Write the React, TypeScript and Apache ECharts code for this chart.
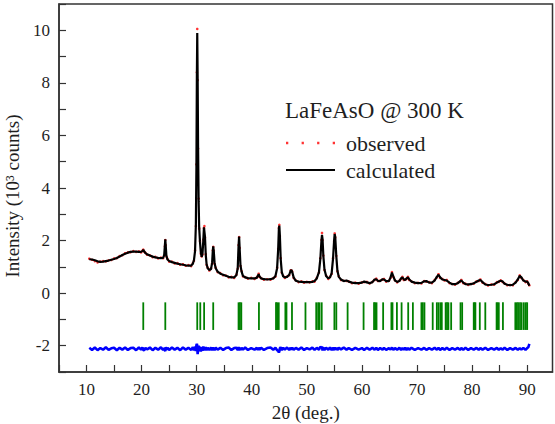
import React, { useEffect, useRef } from "react";
import * as echarts from "echarts";

// 2θ grid (deg.)
const twoTheta = [
  10.5, 11.0, 11.5, 12.0, 12.5, 13.0, 13.5, 14.0, 14.5, 15.0,
  15.5, 16.0, 16.5, 17.0, 17.5, 18.0, 18.5, 19.0, 19.5, 19.9,
  20.15, 20.3, 20.45, 20.7, 21.0, 21.5, 22.0, 22.5, 23.0, 23.5,
  23.9, 24.1, 24.22, 24.3, 24.38, 24.5, 24.7, 25.0, 25.5, 26.0,
  26.5, 27.0, 27.5, 28.0, 28.5, 29.0, 29.3, 29.5, 29.7, 29.85,
  29.95, 30.03, 30.1, 30.17, 30.25, 30.35, 30.45, 30.6, 30.75, 30.9,
  31.05, 31.2, 31.32, 31.4, 31.5, 31.65, 31.8, 32.0, 32.3, 32.6,
  32.8, 32.92, 33.0, 33.1, 33.25, 33.45, 33.8, 34.3, 34.8, 35.3,
  35.8, 36.3, 36.8, 37.2, 37.45, 37.6, 37.7, 37.8, 37.95, 38.15,
  38.4, 38.8, 39.3, 39.9, 40.5, 40.9, 41.1, 41.25, 41.4, 41.7,
  42.2, 42.8, 43.4, 43.9, 44.3, 44.6, 44.8, 44.92, 45.0, 45.1,
  45.25, 45.45, 45.7, 46.0, 46.4, 46.8, 47.05, 47.2, 47.35, 47.6,
  48.0, 48.5, 49.0, 49.5, 50.0, 50.5, 51.0, 51.4, 51.8, 52.2,
  52.45, 52.65, 52.75, 52.85, 53.0, 53.2, 53.5, 53.9, 54.2, 54.5,
  54.75, 54.95, 55.05, 55.15, 55.35, 55.55, 55.8, 56.2, 56.7, 57.2,
  57.6, 58.2, 58.8, 59.4, 60.0, 60.4, 60.9, 61.4, 61.9, 62.3,
  62.6, 62.9, 63.3, 63.75, 64.0, 64.4, 64.9, 65.2, 65.45, 65.7,
  66.0, 66.4, 66.8, 67.1, 67.35, 67.6, 67.85, 68.1, 68.35, 68.6,
  69.0, 69.6, 70.2, 70.8, 71.3, 71.7, 72.2, 72.7, 73.2, 73.6,
  73.9, 74.2, 74.6, 75.0, 75.4, 75.9, 76.4, 76.9, 77.4, 77.8,
  78.05, 78.4, 78.8, 79.3, 79.8, 80.3, 80.8, 81.2, 81.5, 81.9,
  82.4, 82.9, 83.5, 84.0, 84.5, 84.85, 85.2, 85.5, 85.9, 86.4,
  86.9, 87.4, 87.9, 88.3, 88.65, 88.95, 89.3, 89.7, 90.0, 90.2,
  90.4,
];

// calculated intensity (10^3 counts)
const calculated = [
  1.29, 1.28, 1.25, 1.21, 1.19, 1.2, 1.22, 1.24, 1.27, 1.3,
  1.34, 1.39, 1.45, 1.5, 1.54, 1.57, 1.58, 1.58, 1.57, 1.57,
  1.6, 1.65, 1.6, 1.52, 1.48, 1.43, 1.39, 1.36, 1.34, 1.33,
  1.34, 1.45, 1.8, 2.05, 1.8, 1.42, 1.28, 1.22, 1.18, 1.15,
  1.12, 1.1, 1.08, 1.06, 1.05, 1.05, 1.12, 1.25, 1.6, 2.6,
  4.8, 8.2, 9.9, 8.3, 5.6, 3.5, 2.5, 1.95, 1.55, 1.38,
  1.5, 2.0, 2.5, 2.52, 2.15, 1.45, 1.1, 0.95, 0.88, 0.92,
  1.15, 1.6, 1.78, 1.6, 1.15, 0.95, 0.82, 0.74, 0.7, 0.66,
  0.62, 0.6, 0.6, 0.68, 0.95, 1.8, 2.15, 1.7, 1.05, 0.82,
  0.66, 0.6, 0.57, 0.56, 0.56, 0.58, 0.66, 0.72, 0.64, 0.56,
  0.53, 0.52, 0.53, 0.56, 0.65, 0.95, 1.7, 2.45, 2.57, 2.2,
  1.3, 0.8, 0.64, 0.6, 0.62, 0.7, 0.85, 0.88, 0.8, 0.6,
  0.47, 0.44, 0.43, 0.42, 0.42, 0.42, 0.43, 0.46, 0.56, 0.8,
  1.3, 2.0, 2.22, 2.05, 1.4, 0.9, 0.65, 0.56, 0.6, 0.75,
  1.3, 2.0, 2.25, 2.15, 1.4, 0.85, 0.62, 0.52, 0.46, 0.48,
  0.44, 0.4, 0.38, 0.38, 0.4, 0.44, 0.41, 0.38, 0.42, 0.52,
  0.53, 0.47, 0.46, 0.53, 0.52, 0.46, 0.46, 0.6, 0.78, 0.64,
  0.48, 0.43, 0.46, 0.56, 0.6, 0.52, 0.5, 0.56, 0.6, 0.52,
  0.44, 0.4, 0.38, 0.39, 0.45, 0.46, 0.4, 0.4, 0.48, 0.62,
  0.7, 0.6, 0.52, 0.5, 0.48, 0.4, 0.34, 0.34, 0.38, 0.45,
  0.48, 0.4, 0.34, 0.33, 0.34, 0.38, 0.43, 0.48, 0.5, 0.42,
  0.33, 0.31, 0.32, 0.34, 0.4, 0.44, 0.47, 0.45, 0.36, 0.32,
  0.3, 0.32, 0.4, 0.52, 0.66, 0.6, 0.48, 0.44, 0.44, 0.38,
  0.28,
];

// observed intensity (10^3 counts)
const observed = [
  1.31, 1.27, 1.22, 1.17, 1.2, 1.22, 1.21, 1.25, 1.26, 1.32,
  1.33, 1.41, 1.44, 1.52, 1.55, 1.56, 1.6, 1.57, 1.59, 1.55,
  1.62, 1.66, 1.58, 1.53, 1.46, 1.44, 1.37, 1.38, 1.32, 1.35,
  1.33, 1.44, 1.78, 2.02, 1.83, 1.4, 1.3, 1.2, 1.2, 1.13,
  1.14, 1.08, 1.1, 1.04, 1.07, 1.03, 1.14, 1.23, 1.63, 2.55,
  4.9, 8.4, 10.05, 8.1, 5.5, 3.6, 2.45, 1.98, 1.5, 1.4,
  1.47, 2.04, 2.47, 2.55, 2.12, 1.48, 1.08, 0.97, 0.86, 0.94,
  1.13, 1.63, 1.76, 1.62, 1.12, 0.97, 0.8, 0.76, 0.68, 0.67,
  0.6, 0.62, 0.58, 0.7, 0.93, 1.83, 2.13, 1.72, 1.03, 0.84,
  0.64, 0.61, 0.55, 0.58, 0.54, 0.6, 0.64, 0.74, 0.62, 0.57,
  0.51, 0.53, 0.51, 0.57, 0.63, 0.97, 1.68, 2.48, 2.6, 2.17,
  1.33, 0.78, 0.66, 0.58, 0.63, 0.68, 0.87, 0.86, 0.82, 0.58,
  0.49, 0.42, 0.45, 0.4, 0.43, 0.41, 0.45, 0.44, 0.58, 0.78,
  1.33, 2.03, 2.29, 2.02, 1.43, 0.88, 0.67, 0.54, 0.62, 0.73,
  1.33, 1.98, 2.27, 2.12, 1.42, 0.83, 0.64, 0.5, 0.47, 0.46,
  0.45, 0.38, 0.4, 0.36, 0.41, 0.42, 0.43, 0.37, 0.43, 0.5,
  0.55, 0.46, 0.48, 0.51, 0.54, 0.44, 0.47, 0.58, 0.8, 0.62,
  0.49, 0.41, 0.48, 0.54, 0.62, 0.5, 0.52, 0.54, 0.62, 0.5,
  0.45, 0.38, 0.39, 0.37, 0.46, 0.44, 0.42, 0.38, 0.5, 0.6,
  0.72, 0.58, 0.54, 0.48, 0.5, 0.38, 0.35, 0.32, 0.39, 0.43,
  0.5, 0.38, 0.36, 0.31, 0.35, 0.36, 0.45, 0.46, 0.52, 0.4,
  0.35, 0.29, 0.33, 0.32, 0.42, 0.43, 0.49, 0.43, 0.37, 0.3,
  0.31, 0.3, 0.42, 0.5, 0.68, 0.58, 0.5, 0.42, 0.45, 0.36,
  0.3,
];

// difference curve (offset, 10^3 counts)
const difference = [
  -2.08, -2.16, -2.07, -2.17, -2.09, -2.15, -2.06, -2.16, -2.1, -2.08,
  -2.17, -2.08, -2.15, -2.07, -2.16, -2.09, -2.08, -2.17, -2.07, -2.15,
  -2.06, -2.16, -2.18, -2.08, -2.14, -2.07, -2.17, -2.08, -2.15, -2.06,
  -2.16, -2.09, -2.18, -2.21, -2.05, -2.15, -2.08, -2.16, -2.07, -2.15,
  -2.08, -2.17, -2.07, -2.15, -2.08, -2.16, -2.06, -2.17, -2.04, -2.2,
  -1.98, -1.93, -2.0, -2.32, -2.18, -2.0, -2.2, -2.04, -2.22, -2.06,
  -2.19, -2.03, -2.18, -2.06, -2.18, -2.05, -2.17, -2.08, -2.16, -2.07,
  -2.17, -2.06, -2.16, -2.08, -2.17, -2.07, -2.15, -2.08, -2.16, -2.09,
  -2.07, -2.16, -2.09, -2.08, -2.16, -2.05, -2.18, -2.07, -2.16, -2.08,
  -2.15, -2.07, -2.16, -2.09, -2.15, -2.08, -2.16, -2.07, -2.15, -2.08,
  -2.16, -2.09, -2.07, -2.15, -2.08, -2.17, -2.2, -2.26, -2.22, -2.1,
  -2.06, -2.16, -2.08, -2.15, -2.07, -2.16, -2.08, -2.15, -2.07, -2.16,
  -2.08, -2.15, -2.07, -2.16, -2.09, -2.14, -2.07, -2.16, -2.08, -2.15,
  -2.04, -2.07, -2.03, -2.18, -2.07, -2.16, -2.08, -2.15, -2.07, -2.16,
  -2.08, -2.17, -2.06, -2.15, -2.08, -2.16, -2.08, -2.14, -2.07, -2.15,
  -2.09, -2.16, -2.08, -2.15, -2.09, -2.16, -2.08, -2.15, -2.08, -2.15,
  -2.08, -2.16, -2.09, -2.15, -2.08, -2.16, -2.09, -2.15, -2.07, -2.16,
  -2.09, -2.15, -2.08, -2.16, -2.09, -2.15, -2.08, -2.16, -2.09, -2.15,
  -2.08, -2.16, -2.09, -2.15, -2.08, -2.16, -2.09, -2.15, -2.08, -2.15,
  -2.08, -2.16, -2.09, -2.15, -2.08, -2.16, -2.09, -2.15, -2.08, -2.16,
  -2.09, -2.15, -2.08, -2.16, -2.09, -2.15, -2.08, -2.16, -2.09, -2.15,
  -2.08, -2.16, -2.09, -2.15, -2.08, -2.16, -2.09, -2.15, -2.08, -2.16,
  -2.09, -2.15, -2.08, -2.16, -2.09, -2.15, -2.08, -2.16, -2.09, -2.06,
  -1.93,
];

// Bragg reflection positions (deg.)
const reflections = [
  20.3, 24.3, 30.1, 30.65, 31.35, 33.0, 37.6, 37.85, 38.1, 41.3,
  44.4, 44.6, 44.9, 46.1, 46.3, 47.3, 49.75, 51.7, 52.05, 52.3,
  52.7, 55.0, 55.35, 57.4, 60.3, 62.2, 62.4, 62.65, 63.85, 65.35,
  65.55, 66.35, 67.2, 68.4, 69.25, 70.8, 71.05, 71.35, 72.85, 73.6,
  73.9, 74.25, 74.5, 75.2, 75.45, 75.7, 76.2, 77.9, 78.2, 80.3,
  80.45, 80.6, 81.4, 82.4, 84.45, 84.6, 84.85, 85.6, 87.85, 88.1,
  88.35, 88.7, 89.0, 89.4, 89.75, 90.0,
];

const yTickLabels = [-2, 0, 2, 4, 6, 8, 10];
const xTickLabels = [10, 20, 30, 40, 50, 60, 70, 80, 90];

const FONT = "Liberation Serif";
const TEXT = "#1f1f1f";

export default function App() {
  const ref = useRef<HTMLDivElement>(null);
  useEffect(() => {
    if (!ref.current) return;
    const chart = echarts.init(ref.current, undefined, { renderer: "svg" });
    const obsData = twoTheta.map((x, i) => [x, observed[i]]);
    const calcData = twoTheta.map((x, i) => [x, calculated[i]]);
    const diffData = twoTheta.map((x, i) => [x, difference[i]]);
    chart.setOption({
      animation: false,
      textStyle: { fontFamily: FONT },
      grid: {
        left: 59,
        right: 2.5,
        top: 4,
        bottom: 52,
        show: true,
        borderColor: "#333",
        borderWidth: 1.5,
        containLabel: false,
        outerBoundsMode: "none",
      },
      title: {
        text: "LaFeAsO @ 300 K",
        left: 285,
        top: 99,
        padding: 0,
        textStyle: { fontFamily: FONT, fontSize: 23, fontWeight: "normal", color: TEXT },
      },
      legend: {
        orient: "vertical",
        left: 286,
        top: 132,
        padding: 0,
        itemGap: 5,
        itemWidth: 49,
        itemHeight: 14,
        textStyle: { fontFamily: FONT, fontSize: 22, color: TEXT, padding: [0, 0, 0, 6] },
        data: [
          {
            name: "observed",
            icon: "path://M0 0h2v2h-2z M13.7 0h2v2h-2z M27.3 0h2v2h-2z M41 0h2v2h-2z",
          },
          { name: "calculated", icon: "path://M0 0h49v2.2h-49z" },
        ],
      },
      xAxis: {
        type: "value",
        min: 5,
        max: 94.6,
        interval: 5,
        name: "2θ (deg.)",
        nameLocation: "middle",
        nameGap: 27,
        nameTextStyle: { fontFamily: FONT, fontSize: 19, color: TEXT },
        axisLine: { show: true, onZero: false, lineStyle: { color: "#333", width: 1.5 } },
        axisTick: { show: true, inside: true, length: 7, lineStyle: { color: "#333", width: 1.2 } },
        axisLabel: {
          fontFamily: FONT,
          fontSize: 17,
          color: TEXT,
          margin: 9,
          showMaxLabel: false,
          formatter: (v: number) => (xTickLabels.includes(v) ? String(v) : ""),
        },
        splitLine: { show: false },
      },
      yAxis: {
        type: "value",
        min: -3,
        max: 11,
        interval: 1,
        name: "Intensity (10³ counts)",
        nameLocation: "middle",
        nameGap: 26,
        nameTextStyle: { fontFamily: FONT, fontSize: 19, color: TEXT, padding: [0, 16, 0, 0] },
        axisLine: { show: true, onZero: false, lineStyle: { color: "#333", width: 1.5 } },
        axisTick: { show: true, inside: true, length: 7, lineStyle: { color: "#333", width: 1.2 } },
        axisLabel: {
          fontFamily: FONT,
          fontSize: 17,
          color: TEXT,
          margin: 9,
          formatter: (v: number) => (yTickLabels.includes(v) ? String(v) : ""),
        },
        splitLine: { show: false },
      },
      series: [
        {
          name: "observed",
          type: "scatter",
          data: obsData,
          symbol: "circle",
          symbolSize: 2.6,
          itemStyle: { color: "#ff0000" },
          z: 2,
          silent: true,
        },
        {
          name: "calculated",
          type: "line",
          data: calcData,
          showSymbol: false,
          symbol: "none",
          lineStyle: { color: "#000", width: 2.2 },
          itemStyle: { color: "#000" },
          z: 3,
          silent: true,
        },
        {
          name: "Bragg",
          type: "custom",
          data: reflections.map((p) => [p, -0.9]),
          encode: { x: 0, y: 1 },
          renderItem: (_params: any, api: any) => {
            const top = api.coord([api.value(0), -0.35]);
            const bot = api.coord([api.value(0), -1.4]);
            return {
              type: "rect",
              shape: { x: top[0] - 0.9, y: top[1], width: 1.8, height: bot[1] - top[1] },
              style: { fill: "#008000" },
            };
          },
          z: 2,
          silent: true,
        },
        {
          name: "difference",
          type: "line",
          data: diffData,
          showSymbol: false,
          symbol: "none",
          lineStyle: { color: "#0000ff", width: 2.6 },
          z: 2,
          silent: true,
        },
      ],
    });
    return () => chart.dispose();
  }, []);
  return (
    <div
      ref={ref}
      style={{ position: "absolute", left: 0, top: 0, width: 555, height: 424 }}
    />
  );
}
